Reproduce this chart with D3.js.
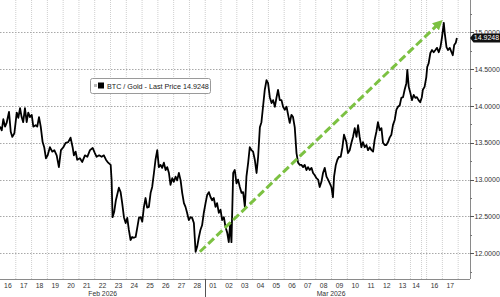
<!DOCTYPE html>
<html><head><meta charset="utf-8">
<script src="https://cdn.jsdelivr.net/npm/d3@7"></script>
<style>html,body{margin:0;padding:0;background:#fff;overflow:hidden;} svg{display:block;font-family:"Liberation Sans",Arial,sans-serif;}</style>
</head><body><svg id="c" width="500" height="297"></svg>
<script>
// ---- data ----
const dayLabels = ["16","17","18","19","20","21","22","23","24","25","26","27","28",
  "01","02","03","04","05","06","07","08","09","10","11","12","13","14","15","16","17"];
const monthLabels = ["Feb 2026","Mar 2026"];
const monthStartIdx = [0, 13];
const yTicks = [12.0,12.5,13.0,13.5,14.0,14.5,15.0];
const yMinorTicks = [11.75,12.25,12.75,13.25,13.75,14.25,14.75,15.25];
const yDomain = [11.65, 15.44];
const seriesName = "BTC / Gold - Last Price";
const lastPrice = 14.9248;
// time in days since Feb 16 00:00
const times = [
0.00,0.11,0.21,0.32,0.42,0.57,0.68,0.78,0.91,1.06,1.16,1.27,1.37,1.47,1.58,1.69,1.79,1.90,2.01,2.11,2.26,2.36,2.47,2.58,2.70,2.80,2.91,3.02,3.16,3.31,3.44,3.59,3.73,3.86,4.01,4.16,4.32,4.47,4.60,4.68,4.79,4.89,5.06,5.21,5.38,5.53,5.70,5.87,6.01,6.12,6.28,6.44,6.58,6.71,6.85,7.01,7.07,7.13,7.23,7.34,7.42,7.53,
7.64,7.74,7.85,7.96,8.06,8.16,8.27,8.37,8.48,8.59,8.69,8.80,8.91,9.01,9.11,9.22,9.32,9.43,9.54,9.64,9.75,9.85,9.96,10.06,10.17,10.27,10.38,10.49,10.59,10.70,10.80,10.91,11.01,11.12,11.22,11.33,11.44,11.54,11.65,11.75,11.85,11.96,12.07,12.17,12.28,12.39,12.49,12.59,12.70,12.80,12.91,13.02,13.12,13.23,13.34,13.44,13.54,13.65,13.75,13.86,13.97,14.07,14.18,14.28,14.39,14.49,14.58,14.66,14.77,
14.87,14.98,15.08,15.19,15.30,15.40,15.51,15.61,15.72,15.82,15.93,16.03,16.14,16.25,16.35,16.46,16.56,16.66,16.77,16.88,16.98,17.09,17.20,17.30,17.41,17.51,17.61,17.72,17.83,17.93,18.04,18.15,18.25,18.35,18.46,18.56,18.67,18.78,18.88,18.99,19.09,19.20,19.30,19.41,19.51,19.62,19.73,19.83,19.94,20.04,20.15,20.25,20.36,20.46,20.57,20.68,20.78,20.89,20.99,21.09,21.16,21.27,21.37,21.47,21.58,21.69,21.79,
21.94,22.04,22.15,22.26,22.36,22.47,22.58,22.68,22.78,22.89,22.99,23.10,23.21,23.31,23.42,23.53,23.63,23.73,23.84,23.94,24.05,24.16,24.26,24.37,24.47,24.58,24.68,24.79,24.89,25.00,25.11,25.21,25.32,25.42,25.53,25.63,25.74,25.80,25.89,25.99,26.13,26.29,26.44,26.58,26.73,26.88,27.06,27.26,27.60,27.94,28.04,28.13,28.24,28.34,28.45,28.56,28.66,28.77,28.88,28.98,29.09,29.15,29.26,29.36,29.47,29.58,29.66,29.75,29.85,29.92];
const values = [
13.72,13.67,13.82,13.72,13.77,13.92,13.65,13.58,13.63,13.91,13.84,13.97,13.85,13.78,13.97,13.78,13.91,13.85,13.88,13.72,13.74,13.72,13.85,13.72,13.51,13.44,13.29,13.33,13.44,13.38,13.40,13.33,13.17,13.40,13.44,13.50,13.51,13.57,13.44,13.33,13.38,13.27,13.29,13.24,13.33,13.31,13.40,13.43,13.36,13.31,13.33,13.31,13.33,13.27,13.23,13.20,12.99,12.49,12.56,12.72,12.79,12.89,
12.83,12.68,12.49,12.41,12.48,12.32,12.18,12.22,12.21,12.22,12.34,12.48,12.49,12.43,12.62,12.75,12.62,12.63,12.82,12.90,13.09,13.27,13.40,13.17,13.20,13.16,13.23,13.13,13.17,13.09,12.93,13.02,12.97,13.04,12.99,13.09,12.99,12.82,12.68,12.63,12.55,12.45,12.49,12.48,12.41,12.02,12.09,12.21,12.32,12.38,12.55,12.68,12.79,12.83,12.76,12.72,12.75,12.63,12.68,12.55,12.59,12.45,12.49,12.36,12.28,12.15,12.41,12.15,13.09,
13.13,12.95,13.00,12.90,12.82,12.83,12.63,13.04,13.23,13.44,13.40,13.38,13.27,13.09,13.31,13.71,13.78,13.99,14.22,14.35,14.31,14.12,14.04,14.08,13.99,14.11,14.22,14.08,14.08,13.99,13.95,13.99,13.88,13.77,13.88,13.85,13.71,13.36,13.23,13.20,13.20,13.17,13.20,13.13,13.17,13.13,13.16,13.09,13.06,13.02,13.00,12.90,12.97,13.09,13.16,13.04,13.00,12.95,12.90,12.76,13.04,13.20,13.27,13.31,13.31,13.44,13.61,
13.51,13.36,13.40,13.50,13.58,13.70,13.58,13.74,13.58,13.44,13.51,13.44,13.47,13.40,13.44,13.40,13.38,13.54,13.65,13.78,13.67,13.70,13.50,13.47,13.47,13.51,13.57,13.61,13.74,13.81,13.95,13.99,14.01,14.11,14.12,14.22,14.31,14.49,14.26,14.18,14.08,14.15,14.11,14.12,14.08,14.05,14.12,14.22,14.26,14.39,14.53,14.58,14.72,14.76,14.73,14.76,14.79,14.73,14.80,14.94,15.13,14.99,14.80,14.76,14.79,14.73,14.69,14.83,14.86,14.9248];
// trend arrow (time, value)
const arrowTimes = [12.66, 29.02];
const arrowValues = [12.02, 15.17];

// ---- layout ----
const W = 470, H = 279;
const svg = d3.select("#c");
svg.append("rect").attr("width",500).attr("height",297).attr("fill","#fff");

// piecewise time scale (weekend Mar 14/15 compressed)
const dayWeight = i => i === 26 ? 0.7 : (i === 27 ? 0.32 : 1);
const dom = [0], cum = [0];
for (let i = 0; i < dayLabels.length; i++) { dom.push(i + 1); cum.push(cum[i] + dayWeight(i)); }
dom.push(dayLabels.length + 0.75); cum.push(cum[cum.length - 1] + 0.75);
const dayW = W / cum[cum.length - 1];
const x = d3.scaleLinear().domain(dom).range(cum.map(c => c * dayW));
const y = d3.scaleLinear().domain(yDomain).range([H, 0]);

// vertical gridlines
const g = svg.append("g");
g.selectAll("line.vg").data(d3.range(1, dayLabels.length + 1)).join("line")
  .attr("x1", d => x(d)).attr("x2", d => x(d)).attr("y1", 0).attr("y2", H)
  .attr("stroke", "#cfcfcf").attr("stroke-width", 1).attr("stroke-dasharray", "1,1");
// horizontal gridlines
g.selectAll("line.hg").data(yTicks).join("line")
  .attr("x1", 0).attr("x2", W).attr("y1", d => Math.round(y(d)) + 0.5).attr("y2", d => Math.round(y(d)) + 0.5)
  .attr("stroke", "#a8a8a8").attr("stroke-width", 1).attr("stroke-dasharray", "1.5,1.5");

// axes lines
svg.append("line").attr("x1", W + 0.5).attr("x2", W + 0.5).attr("y1", 0).attr("y2", H).attr("stroke", "#8a8a8a");
svg.append("line").attr("x1", 0).attr("x2", W).attr("y1", H + 0.5).attr("y2", H + 0.5).attr("stroke", "#8a8a8a");

// y ticks & labels
svg.selectAll("line.yt").data(yTicks).join("line")
  .attr("x1", W).attr("x2", W + 4).attr("y1", d => Math.round(y(d)) + 0.5).attr("y2", d => Math.round(y(d)) + 0.5)
  .attr("stroke", "#555");
svg.selectAll("line.ym").data(yMinorTicks).join("line")
  .attr("x1", W).attr("x2", W + 2).attr("y1", d => Math.round(y(d)) + 0.5).attr("y2", d => Math.round(y(d)) + 0.5)
  .attr("stroke", "#777");
svg.selectAll("text.yl").data(yTicks).join("text")
  .attr("x", W + 4.5).attr("y", d => y(d) + 2.5)
  .attr("font-size", 7).attr("fill", "#333").text(d => d3.format(".4f")(d));

// x labels
svg.selectAll("text.xl").data(dayLabels.map((l, i) => ({l, i})).filter(d => x(d.i + 1) - x(d.i) > 8)).join("text")
  .attr("x", d => (x(d.i) + x(d.i + 1)) / 2).attr("y", 288).attr("text-anchor", "middle")
  .attr("font-size", 6.8).attr("fill", "#333").text(d => d.l);
// month boundary line below axis
monthStartIdx.slice(1).forEach(i => {
  svg.append("line").attr("x1", Math.round(x(i)) + 0.5).attr("x2", Math.round(x(i)) + 0.5).attr("y1", H).attr("y2", 297)
    .attr("stroke", "#555").attr("stroke-width", 1);
});
// month labels
const tEnd = times[times.length - 1];
monthLabels.forEach((m, k) => {
  const s = monthStartIdx[k];
  const e = k + 1 < monthStartIdx.length ? monthStartIdx[k + 1] : tEnd;
  svg.append("text").attr("x", (x(s) + x(e)) / 2).attr("y", 296).attr("text-anchor", "middle")
    .attr("font-size", 6.8).attr("fill", "#333").text(m);
});

// series line
const line = d3.line().x((d, i) => x(times[i])).y(d => y(d));
svg.append("path").datum(values).attr("d", line).attr("fill", "none")
  .attr("stroke", "#000").attr("stroke-width", 1.8).attr("stroke-linejoin", "round");

// trend arrow
const defs = svg.append("defs");
defs.append("marker").attr("id", "ah").attr("viewBox", "0 0 10 10").attr("refX", 2).attr("refY", 5)
  .attr("markerWidth", 10).attr("markerHeight", 10).attr("markerUnits", "userSpaceOnUse").attr("orient", "auto")
  .append("path").attr("d", "M0,0 L10,5 L0,10 Z").attr("fill", "#7cc142");
const ax0 = x(arrowTimes[0]), ay0 = y(arrowValues[0]), ax1 = x(arrowTimes[1]), ay1 = y(arrowValues[1]);
const len = Math.hypot(ax1 - ax0, ay1 - ay0);
const ux = (ax1 - ax0) / len, uy = (ay1 - ay0) / len;
svg.append("line").attr("x1", ax0).attr("y1", ay0).attr("x2", ax1 - ux * 8).attr("y2", ay1 - uy * 8)
  .attr("stroke", "#7cc142").attr("stroke-width", 3).attr("stroke-dasharray", "8,3.5")
  .attr("marker-end", "url(#ah)");

// legend
const lg = svg.append("g").attr("transform", "translate(90,78)");
lg.append("rect").attr("x", 0.5).attr("y", 0.5).attr("width", 120).attr("height", 15).attr("rx", 2)
  .attr("fill", "#fff").attr("stroke", "#9a9a9a");
lg.append("rect").attr("x", 4).attr("y", 6).attr("width", 3).attr("height", 3).attr("fill", "#bbb");
lg.append("rect").attr("x", 8).attr("y", 4.5).attr("width", 6).attr("height", 6).attr("fill", "#000");
lg.append("text").attr("x", 17).attr("y", 10.5).attr("font-size", 7.2).attr("fill", "#222")
  .text(seriesName + " " + d3.format(".4f")(lastPrice));

// last price tag
const yl = y(lastPrice);
svg.append("path").attr("d", `M${W},${yl} L${W + 3.5},${yl - 4.5} L500,${yl - 4.5} L500,${yl + 4.5} L${W + 3.5},${yl + 4.5} Z`)
  .attr("fill", "#111");
svg.append("text").attr("x", 486.5).attr("y", yl + 2.5).attr("text-anchor", "middle")
  .attr("font-size", 7).attr("fill", "#fff").text(d3.format(".4f")(lastPrice));
</script></body></html>
